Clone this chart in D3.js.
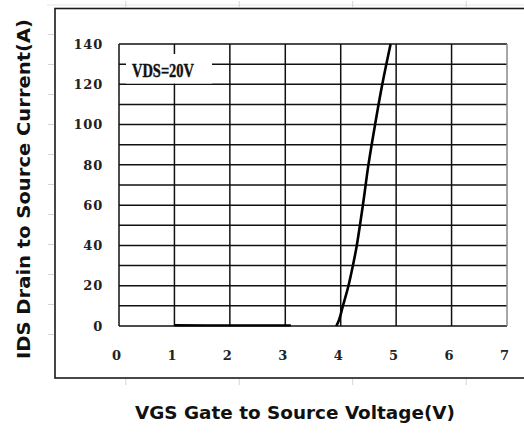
<!DOCTYPE html>
<html>
<head>
<meta charset="utf-8">
<script src="https://cdn.jsdelivr.net/npm/d3@7"></script>
<style>
  body { margin: 0; background: #fff; }
  svg { display: block; }
</style>
</head>
<body>
<div id="chart"></div>
<script>
// transfer characteristic
const flatVgs = [1, 2, 3.1];
const flatIds = [0.4, 0.3, 0.3];
const riseVgs = [3.92, 3.97, 4.04, 4.14, 4.22, 4.29, 4.40, 4.50, 4.62, 4.75, 4.90];
const riseIds = [0, 3, 10, 20, 30, 40, 60, 80, 100, 120, 140];

const xTicks = [0, 1, 2, 3, 4, 5, 6, 7];
const yTicks = [0, 20, 40, 60, 80, 100, 120, 140];
const yGrid = d3.range(0, 141, 10);
const conditionLabel = "VDS=20V";
const xTitle = "VGS Gate to Source Voltage(V)";
const yTitle = "IDS Drain to Source Current(A)";

const W = 524, H = 439;
const margin = {top: 44, right: 17, bottom: 113, left: 119};

const svg = d3.select('#chart')
  .append('svg')
  .attr('width', W)
  .attr('height', H);

const x = d3.scaleLinear().domain([0, 7]).range([margin.left, W - margin.right]);
const y = d3.scaleLinear().domain([0, 140]).range([H - margin.bottom, margin.top]);

// faint leftovers of the original sheet outside the frame
const ghostX = d3.scaleLinear().domain([0, 3]).range([125.3, 465.7]);
const ghostY = d3.scaleLinear().domain([0, 10]).range([334, 34]);

svg.append('line')
  .attr('x1', 47).attr('x2', W).attr('y1', 5).attr('y2', 5)
  .attr('stroke', '#e6e6e6').attr('stroke-width', 1);

svg.append('g')
  .attr('transform', 'translate(54,0)')
  .call(d3.axisLeft(ghostY).ticks(10).tickSize(6).tickFormat(''))
  .call(g => g.select('.domain').remove())
  .call(g => g.selectAll('line').attr('stroke', '#d4d4d4'));

svg.append('g')
  .attr('transform', 'translate(0,1)')
  .call(d3.axisBottom(ghostX).ticks(3).tickSize(6).tickFormat(''))
  .call(g => g.select('.domain').remove())
  .call(g => g.selectAll('line').attr('stroke', '#d4d4d4'));

svg.append('g')
  .attr('transform', 'translate(0,379)')
  .call(d3.axisBottom(ghostX).ticks(3).tickSize(6).tickFormat(''))
  .call(g => g.select('.domain').remove())
  .call(g => g.selectAll('line').attr('stroke', '#d4d4d4'));

// outer frame, open on the right edge
svg.append('rect')
  .attr('x', 55).attr('y', 8.5)
  .attr('width', W + 10 - 55).attr('height', 378 - 8.5)
  .attr('fill', 'none')
  .attr('stroke', '#1a1a1a')
  .attr('stroke-width', 1.6);

// grid
const grid = svg.append('g');

grid.selectAll('.hgrid')
  .data(yGrid)
  .enter()
  .append('line')
  .attr('class', 'hgrid')
  .attr('x1', x(0)).attr('x2', x(7))
  .attr('y1', d => y(d)).attr('y2', d => y(d))
  .attr('stroke', '#111')
  .attr('stroke-width', 1.5);

grid.selectAll('.vgrid')
  .data(xTicks)
  .enter()
  .append('line')
  .attr('class', 'vgrid')
  .attr('x1', d => x(d)).attr('x2', d => x(d))
  .attr('y1', y(0)).attr('y2', y(140))
  .attr('stroke', d => d === 7 ? '#8a8a8a' : '#111')
  .attr('stroke-width', 1.5);

// condition box, covers the grid under it
svg.append('rect')
  .attr('x', 126).attr('y', 54)
  .attr('width', 86).attr('height', 29.5)
  .attr('fill', '#fff');

svg.append('text')
  .attr('x', 132).attr('y', 77)
  .attr('font-family', 'Liberation Serif, serif')
  .attr('font-weight', 'bold')
  .attr('font-size', 18)
  .attr('textLength', 62)
  .attr('lengthAdjust', 'spacingAndGlyphs')
  .attr('stroke', '#111')
  .attr('stroke-width', 0.4)
  .attr('fill', '#111')
  .text(conditionLabel);

// tick labels
svg.append('g')
  .selectAll('text')
  .data(yTicks)
  .enter()
  .append('text')
  .attr('x', 103)
  .attr('y', d => y(d))
  .attr('dy', '0.36em')
  .attr('text-anchor', 'end')
  .attr('font-family', 'DejaVu Serif, serif')
  .attr('font-weight', 'bold')
  .attr('font-size', 13)
  .attr('letter-spacing', 0.8)
  .attr('fill', '#222')
  .text(d => d);

svg.append('g')
  .selectAll('text')
  .data(xTicks)
  .enter()
  .append('text')
  .attr('x', d => x(d) - 2.5)
  .attr('y', 355)
  .attr('dy', '0.36em')
  .attr('text-anchor', 'middle')
  .attr('font-family', 'DejaVu Serif, serif')
  .attr('font-weight', 'bold')
  .attr('font-size', 13)
  .attr('fill', '#222')
  .text(d => d);

// curve
const line = d3.line()
  .curve(d3.curveCatmullRom.alpha(0.5))
  .x(d => x(d[0]))
  .y(d => y(d[1]));

svg.append('path')
  .attr('d', line(d3.zip(flatVgs, flatIds)))
  .attr('fill', 'none')
  .attr('stroke', '#000')
  .attr('stroke-width', 2.4);

svg.append('path')
  .attr('d', line(d3.zip(riseVgs, riseIds)))
  .attr('fill', 'none')
  .attr('stroke', '#000')
  .attr('stroke-width', 2.6)
  .attr('stroke-linejoin', 'round');

// axis titles
svg.append('text')
  .attr('x', 295)
  .attr('y', 413)
  .attr('dy', '0.36em')
  .attr('text-anchor', 'middle')
  .attr('font-family', 'DejaVu Sans, sans-serif')
  .attr('font-weight', 'bold')
  .attr('font-size', 17)
  .attr('textLength', 320)
  .attr('lengthAdjust', 'spacingAndGlyphs')
  .attr('fill', '#111')
  .text(xTitle);

svg.append('text')
  .attr('transform', 'translate(24,189) rotate(-90)')
  .attr('dy', '0.36em')
  .attr('text-anchor', 'middle')
  .attr('font-family', 'DejaVu Sans, sans-serif')
  .attr('font-weight', 'bold')
  .attr('font-size', 17)
  .attr('textLength', 340)
  .attr('lengthAdjust', 'spacingAndGlyphs')
  .attr('fill', '#111')
  .text(yTitle);
</script>
</body>
</html>
